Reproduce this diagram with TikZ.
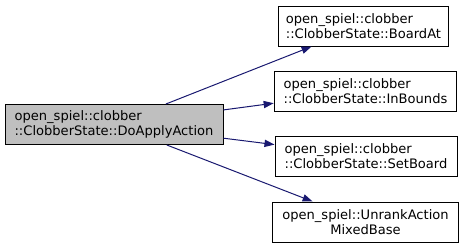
\documentclass[tikz,border=0pt]{standalone}
\usepackage{fontspec}
\setmainfont{DejaVu Sans}
\usepackage{tikz}
\usetikzlibrary{arrows.meta}
\definecolor{edgeblue}{HTML}{191970}
\definecolor{rootgray}{HTML}{BFBFBF}
\tikzstyle{fnbox}=[rectangle,draw=black,fill=white,line width=0.75pt,
                   inner sep=0pt,minimum height=30pt,align=left,
                   font=\fontsize{9.8pt}{11pt}\selectfont]
\tikzstyle{rootbox}=[fnbox,fill=rootgray]
\tikzstyle{callarrow}=[draw=edgeblue,line width=0.75pt,
                       -{Triangle[length=7.5pt,width=5.4pt]}]

\begin{document}
\begin{tikzpicture}[x=0.75pt,y=-0.75pt]
    \useasboundingbox (0,0) rectangle (465,248);
    \node (root)     at (114,124.5) [rootbox,minimum width=163.5pt]
      {open\_spiel::clobber\\::ClobberState::DoApplyAction};
    \node (boardat)  at (363.5,26)  [fnbox,minimum width=128pt]
      {open\_spiel::clobber\\::ClobberState::BoardAt};
    \node (inbounds) at (365.5,91)  [fnbox,minimum width=137pt]
      {open\_spiel::clobber\\::ClobberState::InBounds};
    \node (setboard) at (366,156)   [fnbox,minimum width=136.5pt]
      {open\_spiel::clobber\\::ClobberState::SetBoard};
    \node (unrank)   at (365.5,222) [fnbox,minimum width=140pt,align=center]
      {open\_spiel::UnrankAction\\MixedBase};
    \foreach \callee in {boardat,inbounds,setboard,unrank}
      \draw[callarrow] (root) -- (\callee);
  \end{tikzpicture}
\end{document}
